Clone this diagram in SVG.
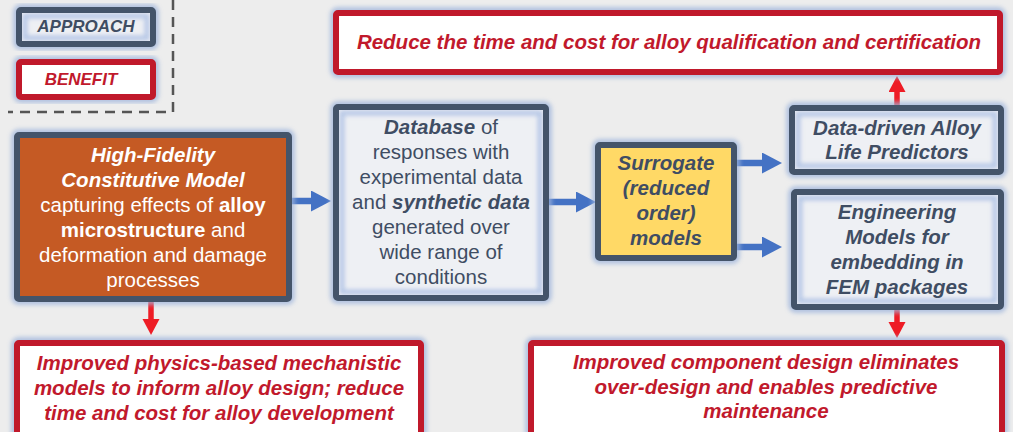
<svg xmlns="http://www.w3.org/2000/svg" width="1013" height="432" viewBox="0 0 1013 432">
  <defs>
    <filter id="soft" x="-10%" y="-20%" width="120%" height="140%">
      <feGaussianBlur stdDeviation="2.2"/>
    </filter>
    <marker id="blueHead" markerUnits="userSpaceOnUse" markerWidth="20" markerHeight="22" refX="0" refY="10.5" orient="auto">
      <path d="M0,0 L20,10.5 L0,21 Z" fill="#4472c4"/>
    </marker>
    <marker id="redHead" markerUnits="userSpaceOnUse" markerWidth="16" markerHeight="18" refX="0" refY="8.5" orient="auto">
      <path d="M0,0 L16,8.5 L0,17 Z" fill="#ee1c25"/>
    </marker>
  </defs>
  <style>
    .bg { fill: #ededed; }
    .halo { fill: none; stroke: #9fb5dc; stroke-width: 12; opacity: 0.75; filter: url(#soft); }
    .inglow { fill: none; stroke: #a9bde3; stroke-width: 5; opacity: 0.8; filter: url(#soft); }
    .edge { fill: none; stroke: #44546a; stroke-width: 6; }
    .edge-red { fill: none; stroke: #c0192b; stroke-width: 6; }
    .fill-light { fill: #eef0f4; }
    .fill-white { fill: #ffffff; }
    .fill-orange { fill: #c55a24; }
    .fill-yellow { fill: #ffd966; }
    text { font-family: "Liberation Sans", Arial, sans-serif; font-size: 20.5px; text-anchor: middle; }
    .dark { fill: #3f4d63; }
    .white { fill: #ffffff; }
    .red { fill: #c1192c; font-weight: bold; font-style: italic; }
    .bi { font-weight: bold; font-style: italic; }
    .b { font-weight: bold; }
    .legend { font-size: 17px; font-weight: bold; font-style: italic; }
    .flow { fill: none; stroke: #4472c4; stroke-width: 6.5; marker-end: url(#blueHead); }
    .gain { fill: none; stroke: #ee1c25; stroke-width: 5.5; marker-end: url(#redHead); }
    .dash { fill: none; stroke: #555555; stroke-width: 2.5; stroke-dasharray: 10 7; }
  </style>

  <rect class="bg" x="0" y="0" width="1013" height="432"/>

  <!-- legend -->
  <g id="legend">
    <path class="dash" d="M173,0 V112 H8"/>
    <g id="legend-approach">
      <rect class="halo" x="19" y="10" width="134" height="34" rx="2"/>
      <rect class="fill-light" x="19" y="10" width="134" height="34"/>
      <rect class="inglow" x="25" y="16" width="122" height="22"/>
      <rect class="edge" x="19" y="10" width="134" height="34" rx="2"/>
      <text class="legend dark" x="86" y="32">APPROACH</text>
    </g>
    <g id="legend-benefit">
      <rect class="halo" x="19" y="62" width="134" height="35" rx="2"/>
      <rect class="fill-white" x="19" y="62" width="134" height="35"/>
      <rect class="edge-red" x="19" y="62" width="134" height="35" rx="2"/>
      <text class="legend red" x="81" y="85">BENEFIT</text>
    </g>
  </g>

  <!-- connectors -->
  <g id="connectors">
    <path class="flow" d="M292,201 H311"/>
    <path class="flow" d="M549,202 H576"/>
    <path class="flow" d="M737,163 H762"/>
    <path class="flow" d="M737,247 H762"/>
    <path class="gain" d="M151,302 V319"/>
    <path class="gain" d="M897,106 V92"/>
    <path class="gain" d="M897,310 V322"/>
  </g>

  <!-- approach: constitutive model -->
  <g id="model">
    <rect class="halo" x="17" y="135" width="272" height="164" rx="2"/>
    <rect class="fill-orange" x="17" y="135" width="272" height="164"/>
    <rect class="edge" x="17" y="135" width="272" height="164" rx="2"/>
    <text class="white bi" x="153" y="162">High-Fidelity</text>
    <text class="white bi" x="153" y="187">Constitutive Model</text>
    <text class="white" x="153" y="212">capturing effects of <tspan class="b">alloy</tspan></text>
    <text class="white" x="153" y="237"><tspan class="b">microstructure</tspan> and</text>
    <text class="white" x="153" y="262">deformation and damage</text>
    <text class="white" x="153" y="287">processes</text>
  </g>

  <!-- approach: database -->
  <g id="database">
    <rect class="halo" x="336" y="107" width="210" height="191" rx="2"/>
    <rect class="fill-light" x="336" y="107" width="210" height="191"/>
    <rect class="inglow" x="342" y="113" width="198" height="179"/>
    <rect class="edge" x="336" y="107" width="210" height="191" rx="2"/>
    <text class="dark" x="441" y="134"><tspan class="bi">Database</tspan> of</text>
    <text class="dark" x="441" y="159">responses with</text>
    <text class="dark" x="441" y="184">experimental data</text>
    <text class="dark" x="441" y="209">and <tspan class="bi">synthetic data</tspan></text>
    <text class="dark" x="441" y="234">generated over</text>
    <text class="dark" x="441" y="259">wide range of</text>
    <text class="dark" x="441" y="284">conditions</text>
  </g>

  <!-- approach: surrogate models -->
  <g id="surrogate">
    <rect class="halo" x="598" y="145" width="136" height="113" rx="2"/>
    <rect class="fill-yellow" x="598" y="145" width="136" height="113"/>
    <rect class="edge" x="598" y="145" width="136" height="113" rx="2"/>
    <text class="dark bi" x="666" y="170">Surrogate</text>
    <text class="dark bi" x="666" y="195">(reduced</text>
    <text class="dark bi" x="666" y="220">order)</text>
    <text class="dark bi" x="666" y="245">models</text>
  </g>

  <!-- approach: life predictors -->
  <g id="predictors">
    <rect class="halo" x="792" y="108" width="209" height="64" rx="2"/>
    <rect class="fill-light" x="792" y="108" width="209" height="64"/>
    <rect class="inglow" x="798" y="114" width="197" height="52"/>
    <rect class="edge" x="792" y="108" width="209" height="64" rx="2"/>
    <text class="dark bi" x="897" y="135">Data-driven Alloy</text>
    <text class="dark bi" x="897" y="159">Life Predictors</text>
  </g>

  <!-- approach: engineering models -->
  <g id="engineering">
    <rect class="halo" x="794" y="192" width="207" height="115" rx="2"/>
    <rect class="fill-light" x="794" y="192" width="207" height="115"/>
    <rect class="inglow" x="800" y="198" width="195" height="103"/>
    <rect class="edge" x="794" y="192" width="207" height="115" rx="2"/>
    <text class="dark bi" x="897" y="219">Engineering</text>
    <text class="dark bi" x="897" y="244">Models for</text>
    <text class="dark bi" x="897" y="269">embedding in</text>
    <text class="dark bi" x="897" y="294">FEM packages</text>
  </g>

  <!-- benefit: qualification -->
  <g id="qualification">
    <rect class="halo" x="336" y="13" width="664" height="59" rx="2"/>
    <rect class="fill-white" x="336" y="13" width="664" height="59"/>
    <rect class="edge-red" x="336" y="13" width="664" height="59" rx="2"/>
    <text class="red" x="669" y="49">Reduce the time and cost for alloy qualification and certification</text>
  </g>

  <!-- benefit: alloy development -->
  <g id="development">
    <rect class="halo" x="17" y="343" width="404" height="100" rx="2"/>
    <rect class="fill-white" x="17" y="343" width="404" height="100"/>
    <rect class="edge-red" x="17" y="343" width="404" height="100" rx="2"/>
    <text class="red" x="219" y="370">Improved physics-based mechanistic</text>
    <text class="red" x="219" y="395">models to inform alloy design; reduce</text>
    <text class="red" x="219" y="420">time and cost for alloy development</text>
  </g>

  <!-- benefit: component design -->
  <g id="component">
    <rect class="halo" x="531" y="343" width="471" height="100" rx="2"/>
    <rect class="fill-white" x="531" y="343" width="471" height="100"/>
    <rect class="edge-red" x="531" y="343" width="471" height="100" rx="2"/>
    <text class="red" x="766" y="369">Improved component design eliminates</text>
    <text class="red" x="766" y="394">over-design and enables predictive</text>
    <text class="red" x="766" y="418">maintenance</text>
  </g>
</svg>
